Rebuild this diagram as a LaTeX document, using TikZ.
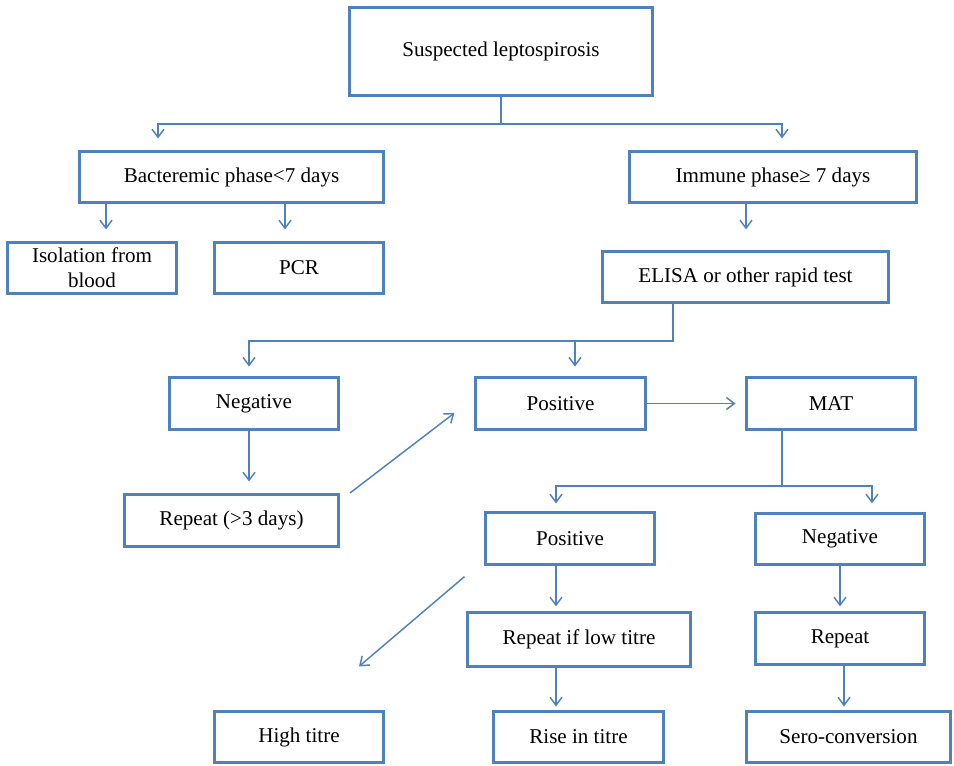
\documentclass[tikz,border=0pt]{standalone}
\usepackage{fontspec}
\setmainfont{Liberation Serif}
\usetikzlibrary{arrows.meta,calc}
\definecolor{bl}{HTML}{4F81BD}
\tikzset{
  box/.style={draw=bl, line width=2.4pt, align=center, inner sep=0pt,
    font=\fontsize{15.8}{19}\selectfont},
  ln/.style={draw=bl, line width=1.1pt},
  arr/.style={ln, -{Straight Barb[length=6pt,width=9pt,line width=1.1pt]}},
}
\newcommand\mybox[6]{\node[box, minimum width={(#4-#2-3)*0.75pt},
  minimum height={(#5-#3-3)*0.75pt}] (#1) at ({(#2+#4)/2},{(#3+#5)/2}) {#6};}
\begin{document}
\begin{tikzpicture}[x=0.75pt,y=-0.75pt]
\useasboundingbox (0,0) rectangle (954,765);
\mybox{sus}{348}{6}{654}{97}{Suspected leptospirosis}
\mybox{bac}{78}{150}{385}{204}{Bacteremic phase<7 days}
\mybox{imm}{628}{150}{918}{204}{Immune phase≥ 7 days}
\mybox{iso}{6}{241}{178}{295}{Isolation from\\blood}
\mybox{pcr}{213}{241}{385}{295}{PCR}
\mybox{eli}{601}{250}{890}{304}{ELISA or other rapid test}
\mybox{neg}{168}{376}{340}{431}{Negative}
\mybox{pos}{474}{376}{647}{431}{Positive}
\mybox{mat}{745}{376}{917}{431}{MAT}
\mybox{rep}{123}{493}{340}{548}{Repeat (>3 days)}
\mybox{pos2}{484}{511}{656}{566}{Positive}
\mybox{neg2}{754}{512}{926}{566}{Negative}
\mybox{rlow}{466}{611}{692}{668}{Repeat if low titre}
\mybox{rep2}{754}{611}{926}{666}{Repeat}
\mybox{high}{213}{710}{385}{764}{High titre}
\mybox{rise}{492}{710}{665}{764}{Rise in titre}
\mybox{sero}{745}{710}{952}{764}{Sero-conversion}
% connectors
\draw[arr, shorten >=8.6pt] (sus.south) -- ++(0,27) -| (bac.north -| 158,0);
\draw[arr, shorten >=8.6pt] (sus.south) -- ++(0,27) -| (imm.north -| 782,0);
\draw[arr, shorten >=8.6pt] (bac.south -| 106,0) -- (iso.north -| 106,0);
\draw[arr, shorten >=8.6pt] (bac.south -| 285,0) -- (pcr.north -| 285,0);
\draw[arr, shorten >=15.4pt] (imm.south -| 746,0) -- (eli.north -| 746,0);
\draw[arr, shorten >=7pt] (eli.south -| 673,0) -- ++(0,37) -| (neg.north -| 249,0);
\draw[arr, shorten >=7pt] (eli.south -| 673,0) -- ++(0,37) -| (pos.north -| 575,0);
\draw[arr, shorten >=7pt] (pos.east) -- (mat.west);
\draw[arr, shorten >=8.6pt] (neg.south -| 249,0) -- (rep.north -| 249,0);
\draw[arr] ([xshift=7.5pt]rep.north east) -- ([xshift=-14.6pt,yshift=-7.1pt]pos.west);
\draw[arr, shorten >=5.6pt] (mat.south -| 782,0) -- ++(0,55) -| (pos2.north -| 556,0);
\draw[arr, shorten >=6.4pt] (mat.south -| 782,0) -- ++(0,55) -| (neg2.north -| 872,0);
\draw[arr, shorten >=3.4pt] (pos2.south -| 556,0) -- (rlow.north -| 556,0);
\draw[arr, shorten >=3.4pt] (neg2.south -| 840,0) -- (rep2.north -| 840,0);
\draw[arr] ([xshift=-14.6pt,yshift=-7.9pt]pos2.south west) -- ([xshift=45pt,yshift=32.6pt]high.north);
\draw[arr, shorten >=2.6pt] (rlow.south -| 556,0) -- (rise.north -| 556,0);
\draw[arr, shorten >=2.6pt] (rep2.south -| 844,0) -- (sero.north -| 844,0);
\end{tikzpicture}
\end{document}
